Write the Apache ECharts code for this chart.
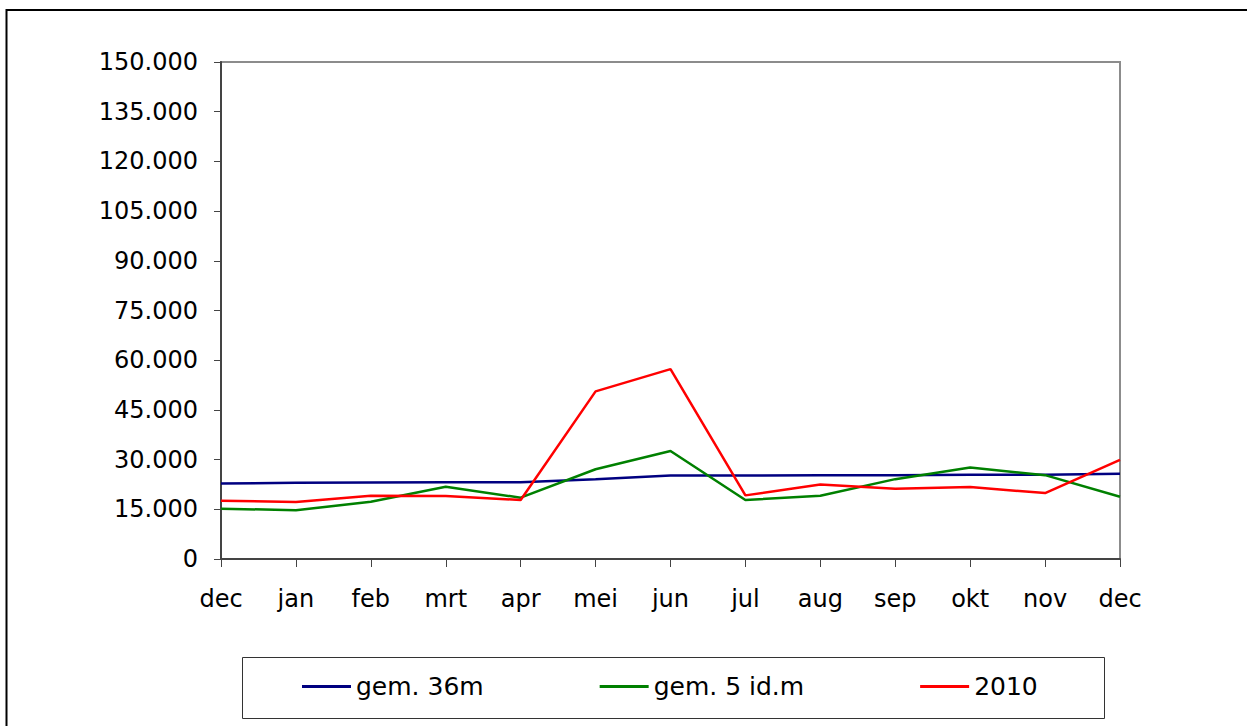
<!DOCTYPE html>
<html>
<head>
<meta charset="utf-8">
<script src="https://cdn.jsdelivr.net/npm/echarts@6/dist/echarts.min.js"></script>
<style>
  html, body { margin: 0; padding: 0; background: #fff; }
  #chart { width: 1247px; height: 726px; }
</style>
</head>
<body>
<div id="chart"></div>
<script>
const months = ['dec', 'jan', 'feb', 'mrt', 'apr', 'mei', 'jun', 'jul', 'aug', 'sep', 'okt', 'nov', 'dec'];
const gem36 = [22800, 23000, 23100, 23200, 23200, 24100, 25200, 25200, 25300, 25300, 25400, 25400, 25700];
const gem5 = [15200, 14700, 17300, 21800, 18500, 27100, 32600, 17800, 19100, 24100, 27600, 25300, 18800];
const y2010 = [17600, 17200, 19100, 19000, 17800, 50600, 57300, 19200, 22500, 21200, 21700, 19900, 29900];

const font = 'DejaVu Sans';

function dots(v) {
  return String(v).replace(/\B(?=(\d{3})+(?!\d))/g, '.');
}

const chart = echarts.init(document.getElementById('chart'), null, { renderer: 'svg' });

chart.setOption({
  animation: false,
  backgroundColor: '#fff',
  graphic: [
    {
      type: 'rect',
      shape: { x: 6.5, y: 10, width: 1300, height: 800 },
      style: { fill: 'none', stroke: '#000', lineWidth: 2 }
    },
    {
      type: 'rect',
      shape: { x: 242.5, y: 657.5, width: 862, height: 61 },
      style: { fill: '#fff', stroke: '#333', lineWidth: 1 }
    }
  ],
  grid: {
    left: 221,
    right: 127,
    top: 62,
    bottom: 167,
    show: true,
    borderColor: '#8c8c8c',
    borderWidth: 2
  },
  legend: {
    left: 302,
    top: 674,
    padding: 0,
    itemGap: 116,
    itemWidth: 49,
    itemHeight: 3,
    icon: 'rect',
    textStyle: { fontFamily: font, fontSize: 25, color: '#000' },
    data: ['gem. 36m', 'gem. 5 id.m', '2010']
  },
  xAxis: {
    type: 'category',
    data: months,
    boundaryGap: false,
    axisLine: { lineStyle: { color: '#444', width: 2 } },
    axisTick: { show: true, length: 8, lineStyle: { color: '#444' } },
    axisLabel: { fontFamily: font, fontSize: 24, color: '#000', margin: 28, interval: 0 },
    splitLine: { show: false }
  },
  yAxis: {
    type: 'value',
    min: 0,
    max: 150000,
    interval: 15000,
    axisLine: { show: true, lineStyle: { color: '#444', width: 2 } },
    axisTick: { show: true, length: 7, lineStyle: { color: '#444' } },
    axisLabel: { fontFamily: font, fontSize: 24, color: '#000', margin: 23, formatter: dots },
    splitLine: { show: false }
  },
  series: [
    { name: 'gem. 36m', type: 'line', data: gem36, showSymbol: false, color: '#000080', lineStyle: { width: 2.5 } },
    { name: 'gem. 5 id.m', type: 'line', data: gem5, showSymbol: false, color: '#008000', lineStyle: { width: 2.5 } },
    { name: '2010', type: 'line', data: y2010, showSymbol: false, color: '#ff0000', lineStyle: { width: 2.5 } }
  ]
});
</script>
</body>
</html>
